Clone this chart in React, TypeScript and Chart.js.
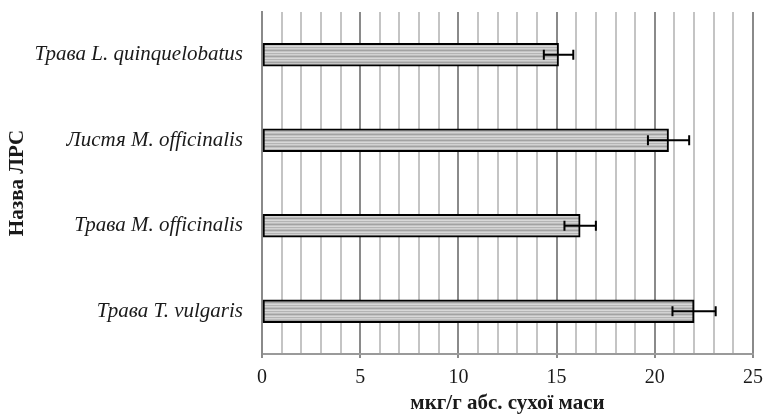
import React, { useEffect, useRef } from 'react';
import { Chart, registerables } from 'chart.js';

Chart.register(...registerables);

const categories = [
  'Трава L. quinquelobatus',
  'Листя M. officinalis',
  'Трава M. officinalis',
  'Трава T. vulgaris',
];
const values = [15.1, 20.7, 16.2, 22.0];
const errors = [0.75, 1.05, 0.8, 1.1];
const xMin = 0;
const xMax = 25;
const xMajorStep = 5;
const xMinorStep = 1;
const xTitle = 'мкг/г абс. сухої маси';
const yTitle = 'Назва ЛРС';

const stripeColors = ['#d2d2d2', '#bdbdbd', '#a2a2a2', '#c4c4c4', '#d8d8d8', '#b4b4b4'];

function makePattern(ctx: CanvasRenderingContext2D): CanvasPattern | string {
  const c = document.createElement('canvas');
  c.width = 4;
  c.height = stripeColors.length;
  const g = c.getContext('2d');
  if (!g) return '#c4c4c4';
  stripeColors.forEach((col, i) => {
    g.fillStyle = col;
    g.fillRect(0, i, 4, 1);
  });
  return ctx.createPattern(c, 'repeat') || '#c4c4c4';
}

const errorBarPlugin = {
  id: 'errorBars',
  afterDatasetsDraw(chart: any) {
    const { ctx, scales } = chart;
    const x = scales.x;
    const y = scales.y;
    ctx.save();
    ctx.strokeStyle = '#000';
    ctx.lineWidth = 2;
    values.forEach((v, i) => {
      const yc = y.getPixelForValue(i);
      const x1 = x.getPixelForValue(v - errors[i]);
      const x2 = x.getPixelForValue(v + errors[i]);
      ctx.beginPath();
      ctx.moveTo(x1, yc);
      ctx.lineTo(x2, yc);
      ctx.moveTo(x1, yc - 5);
      ctx.lineTo(x1, yc + 5);
      ctx.moveTo(x2, yc - 5);
      ctx.lineTo(x2, yc + 5);
      ctx.stroke();
    });
    ctx.restore();
  },
};

export default function App() {
  const ref = useRef<HTMLCanvasElement | null>(null);

  useEffect(() => {
    const canvas = ref.current;
    if (!canvas) return;
    const ctx2d = canvas.getContext('2d');
    if (!ctx2d) return;
    const pattern = makePattern(ctx2d);
    const isMajor = (v: number) => Math.abs(v % xMajorStep) < 1e-6;

    const chart = new Chart(canvas, {
      type: 'bar',
      data: {
        labels: categories,
        datasets: [
          {
            data: values,
            backgroundColor: pattern as any,
            borderColor: '#000',
            borderWidth: 2,
            borderSkipped: false,
            barThickness: 23,
          },
        ],
      },
      options: {
        indexAxis: 'y',
        responsive: false,
        animation: false,
        layout: { padding: { left: 0, top: 12, right: 12, bottom: 0 } },
        plugins: {
          legend: { display: false },
          tooltip: { enabled: false },
        },
        scales: {
          x: {
            type: 'linear',
            min: xMin,
            max: xMax,
            afterFit: (scale: any) => {
              scale.height = 60;
            },
            ticks: {
              stepSize: xMinorStep,
              autoSkip: false,
              maxRotation: 0,
              padding: 8,
              color: '#1a1a1a',
              font: { family: 'Liberation Serif', size: 20 },
              callback: (v: any) => (isMajor(Number(v)) ? String(v) : ''),
            },
            grid: {
              color: (c: any) => (isMajor(c.tick.value) ? '#8a8a8a' : '#c4c4c4'),
              lineWidth: 2,
              tickLength: 4,
              tickColor: (c: any) => (isMajor(c.tick.value) ? '#8a8a8a' : 'rgba(0,0,0,0)'),
            },
            border: { display: true, color: '#9a9a9a', width: 2 },
            title: {
              display: true,
              text: xTitle,
              color: '#1a1a1a',
              font: { family: 'Liberation Serif', size: 21, weight: 'bold', lineHeight: 1 },
              padding: { top: 0, bottom: 0 },
            },
          },
          y: {
            afterFit: (scale: any) => {
              scale.width = 262;
              scale.paddingTop = 0;
              scale.paddingBottom = 0;
            },
            ticks: {
              padding: 19,
              color: '#1a1a1a',
              font: { family: 'Liberation Serif', size: 21, style: 'italic' },
            },
            grid: { display: false, drawTicks: false, tickLength: 0 },
            border: { display: true, color: '#8a8a8a', width: 2 },
            title: {
              display: true,
              text: yTitle,
              color: '#1a1a1a',
              font: { family: 'Liberation Serif', size: 21, weight: 'bold', lineHeight: 1.2 },
              padding: { top: 5, bottom: 0 },
            },
          },
        },
      },
      plugins: [errorBarPlugin],
    });
    return () => chart.destroy();
  }, []);

  return (
    <canvas
      ref={ref}
      width={771}
      height={414}
      style={{ position: 'absolute', left: 0, top: 0, width: 771, height: 414 }}
    />
  );
}
